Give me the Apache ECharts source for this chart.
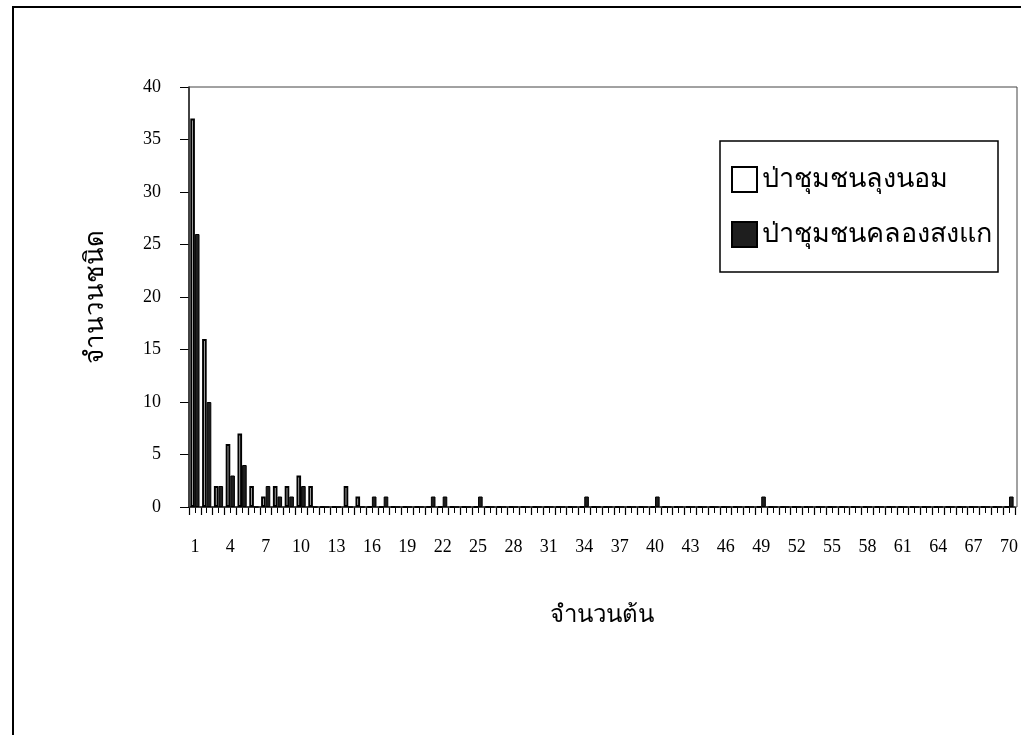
<!DOCTYPE html>
<html>
<head>
<meta charset="utf-8">
<script src="https://cdn.jsdelivr.net/npm/echarts@6/dist/echarts.min.js"></script>
<style>
html,body{margin:0;padding:0;background:#fff;}
#chart{width:1021px;height:735px;}
</style>
</head>
<body>
<div id="chart"></div>
<script>
const categories = ['1','2','3','4','5','6','7','8','9','10','11','12','13','14','15','16','17','18','19','20','21','22','23','24','25','26','27','28','29','30','31','32','33','34','35','36','37','38','39','40','41','42','43','44','45','46','47','48','49','50','51','52','53','54','55','56','57','58','59','60','61','62','63','64','65','66','67','68','69','70'];
const seriesNames = ['ป่าชุมชนลุงนอม', 'ป่าชุมชนคลองสงแก'];
const lungNom = [37,16,2,6,7,2,1,2,2,3, 2,0,0,2,1,0,0,0,0,0, 0,0,0,0,0,0,0,0,0,0, 0,0,0,0,0,0,0,0,0,0, 0,0,0,0,0,0,0,0,0,0, 0,0,0,0,0,0,0,0,0,0, 0,0,0,0,0,0,0,0,0,0];
const khlongSongKae = [26,10,2,3,4,0,2,1,1,2, 0,0,0,0,0,1,1,0,0,0, 1,1,0,0,1,0,0,0,0,0, 0,0,0,1,0,0,0,0,0,1, 0,0,0,0,0,0,0,0,1,0, 0,0,0,0,0,0,0,0,0,0, 0,0,0,0,0,0,0,0,0,1];
const yTicks = [0,5,10,15,20,25,30,35,40];
const xTitle = 'จำนวนต้น';
const yTitle = 'จำนวนชนิด';

const minorCats = [];
categories.forEach(c => { minorCats.push(c + 'a'); minorCats.push(c + 'b'); });

const serif = "'Liberation Serif','DejaVu Serif',serif";
const chart = echarts.init(document.getElementById('chart'));
chart.setOption({
  animation: false,
  backgroundColor: '#fff',
  graphic: [
    { type: 'polyline', shape: { points: [[13, 760], [13, 7], [1030, 7]] }, style: { stroke: '#000', lineWidth: 2, fill: null } },
    { type: 'rect', shape: { x: 189, y: 87, width: 828, height: 420 }, style: { stroke: '#444', lineWidth: 1, fill: null }, z: 1 }
  ],
  legend: {
    right: 23, top: 141,
    orient: 'vertical',
    icon: 'rect',
    itemWidth: 25, itemHeight: 25, itemGap: 28,
    padding: [25, 6, 24, 11],
    borderColor: '#000', borderWidth: 1.5,
    backgroundColor: '#fff',
    textStyle: { fontSize: 27, color: '#000', fontFamily: serif },
    data: seriesNames
  },
  grid: { left: 189, right: 4, top: 87, bottom: 228, containLabel: false },
  xAxis: [{
    type: 'category',
    data: categories,
    name: xTitle,
    nameLocation: 'middle',
    nameGap: 97,
    nameTextStyle: { fontSize: 24, color: '#000', fontFamily: serif },
    axisLine: { show: true, lineStyle: { color: '#000', width: 1.5 } },
    axisTick: { show: true, interval: 0, length: 8, lineStyle: { color: '#000', width: 1.2 } },
    axisLabel: { interval: 2, margin: 31, fontSize: 18, color: '#000', fontFamily: serif },
    splitLine: { show: false }
  }, {
    type: 'category',
    data: minorCats,
    position: 'bottom',
    gridIndex: 0,
    axisLine: { show: false },
    axisTick: { show: true, interval: 0, length: 6, lineStyle: { color: '#000', width: 1 } },
    axisLabel: { show: false },
    splitLine: { show: false }
  }],
  yAxis: {
    type: 'value',
    min: 0, max: 40, interval: 5,
    name: yTitle,
    nameLocation: 'middle',
    nameGap: 80,
    nameRotate: 90,
    nameTextStyle: { fontSize: 26, color: '#000', fontFamily: serif },
    axisLine: { show: true, lineStyle: { color: '#000', width: 1.5 } },
    axisTick: { show: true, length: 9, lineStyle: { color: '#000' } },
    axisLabel: { margin: 28, fontSize: 18, color: '#000', fontFamily: serif, formatter: v => yTicks.includes(v) ? String(v) : '' },
    splitLine: { show: false }
  },
  series: [{
    name: seriesNames[0],
    type: 'bar',
    data: lungNom,
    barGap: '0%',
    barCategoryGap: '22%',
    itemStyle: { color: '#fff', borderColor: '#000', borderWidth: 2 }
  }, {
    name: seriesNames[1],
    type: 'bar',
    data: khlongSongKae,
    itemStyle: { color: '#1e1e1e', borderColor: '#000', borderWidth: 1 }
  }]
});
</script>
</body>
</html>
